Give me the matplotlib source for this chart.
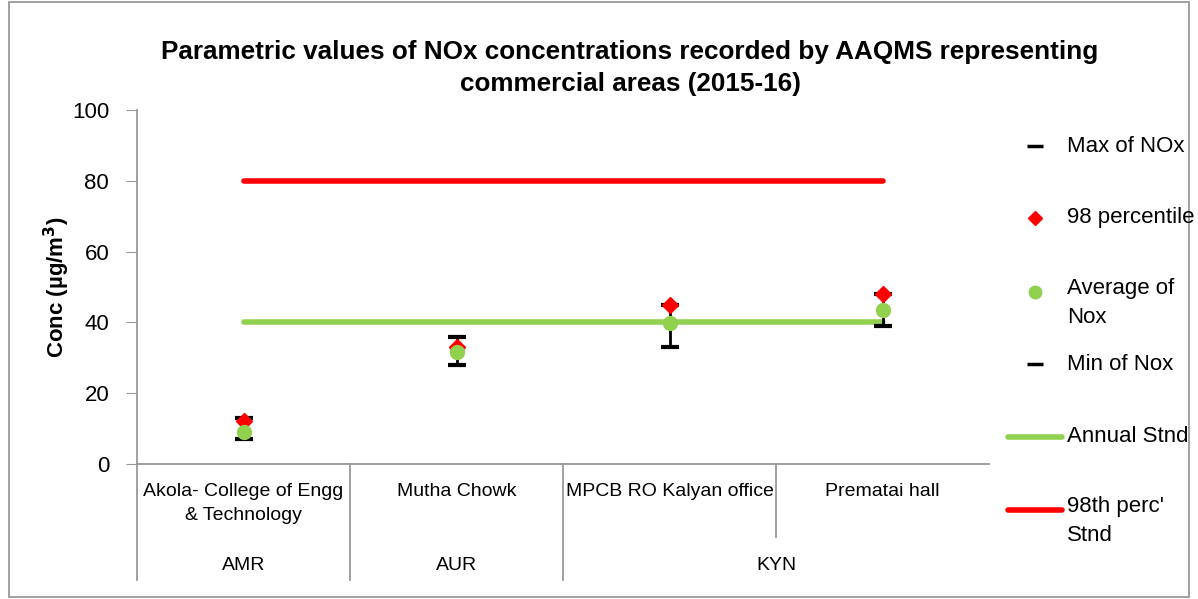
import matplotlib
matplotlib.use("Agg")
import matplotlib.pyplot as plt
from matplotlib.lines import Line2D
from matplotlib.patches import Rectangle
import matplotlib.transforms as mtransforms

# -------- data --------
sites = ["Akola- College of Engg\n& Technology", "Mutha Chowk",
         "MPCB RO Kalyan office", "Prematai hall"]
groups = ["AMR", "AUR", "KYN"]
group_span = [(0, 0), (1, 1), (2, 3)]
max_nox = [13, 36, 45, 48]
p98 = [12.2, 33, 45, 48]
avg_nox = [9, 31.6, 39.7, 43.5]
min_nox = [7, 28, 33, 39]
annual_stnd = [40, 40, 40, 40]
p98_stnd = [80, 80, 80, 80]

W, H = 1198, 599
plt.rcParams["font.family"] = ["Liberation Sans", "DejaVu Sans"]

GREEN = "#92D050"
RED = "#FF0000"

def fx(px):
    return px / W

def fy(py):
    return 1 - py / H

fig = plt.figure(figsize=(W / 100, H / 100), dpi=100)
ax = fig.add_axes([fx(137), fy(464), fx(989) - fx(137), fy(110) - fy(464)])

x = list(range(len(sites)))
ax.plot(x, p98_stnd, color=RED, lw=4, solid_capstyle="round", zorder=2)
ax.plot(x, annual_stnd, color=GREEN, lw=4, solid_capstyle="round", zorder=2)
ax.vlines(x, min_nox, max_nox, color="black", lw=2, zorder=3)
ax.plot(x, max_nox, ls="none", marker="_", ms=13, mew=3, color="black", zorder=4)
ax.plot(x, min_nox, ls="none", marker="_", ms=13, mew=3, color="black", zorder=4)
ax.plot(x, p98, ls="none", marker="D", ms=8, color=RED, zorder=5)
ax.plot(x, avg_nox, ls="none", marker="o", ms=10, color=GREEN, zorder=6)

ax.set_xlim(-0.5, len(sites) - 0.5)
ax.set_ylim(0, 100)
ax.set_yticks(range(0, 101, 20))
ax.tick_params(axis="y", labelsize=16, length=8, color="#999999", pad=12)
ax.set_xticks([])
for s in ("top", "right"):
    ax.spines[s].set_visible(False)
for s in ("left", "bottom"):
    ax.spines[s].set_color("#999999")
    ax.spines[s].set_linewidth(1.3)

# -------- multi-level category axis --------
trans = mtransforms.blended_transform_factory(ax.transData, ax.transAxes)
ah = 464 - 110
y_lab = (464 - 483) / ah
y_grp = (464 - 566) / ah
y_bot = (464 - 580) / ah
y_mid = (464 - 537) / ah
for i, s in enumerate(sites):
    ax.text(i, y_lab, s, transform=trans, ha="center", va="top", fontsize=14,
            linespacing=1.5)
for (a, b), g in zip(group_span, groups):
    ax.text((a + b) / 2, y_grp, g, transform=trans, ha="center", va="center",
            fontsize=14)
for (a, b) in group_span:
    ax.plot([a - 0.5, a - 0.5], [0, y_bot], transform=trans, color="#999999",
            lw=1.3, clip_on=False)
    for k in range(a + 1, b + 1):
        ax.plot([k - 0.5, k - 0.5], [0, y_mid], transform=trans, color="#999999",
                lw=1.3, clip_on=False)

ax.set_ylabel("Conc (µg/m$^\\mathbf{3}$)", fontsize=16, fontweight="bold")
ax.yaxis.set_label_coords((72 - 137) / 852, 0.5)

fig.text(fx(630), fy(68), "Parametric values of NOx concentrations recorded by AAQMS representing\ncommercial areas (2015-16)",
         ha="center", va="center", fontsize=18.8, fontweight="bold",
         linespacing=1.45)

# -------- legend (manual) --------
mk_x = fx(1035)
tx = fx(1067)
entries = [
    (146, "Max of NOx", dict(marker="_", ms=12, mew=2.5, color="black")),
    (218, "98 percentile", dict(marker="D", ms=7, color=RED)),
    (292, "Average of\nNox", dict(marker="o", ms=9, color=GREEN)),
    (364, "Min of Nox", dict(marker="_", ms=12, mew=2.5, color="black")),
]
for py, lab, kw in entries:
    fig.add_artist(Line2D([mk_x], [fy(py)], ls="none", transform=fig.transFigure, **kw))
    if "\n" in lab:
        fig.text(tx, fy(py - 14), lab, ha="left", va="top", fontsize=16, linespacing=1.5)
    else:
        fig.text(tx, fy(py), lab, ha="left", va="center", fontsize=16)
for py, lab, col in [(437, "Annual Stnd", GREEN), (510, "98th perc'\nStnd", RED)]:
    fig.add_artist(Line2D([fx(1008), fx(1062)], [fy(py), fy(py)], color=col, lw=4,
                          solid_capstyle="round", transform=fig.transFigure))
    if "\n" in lab:
        fig.text(tx, fy(py - 14), lab, ha="left", va="top", fontsize=16, linespacing=1.5)
    else:
        fig.text(tx, fy(py), lab, ha="left", va="center", fontsize=16)

# outer border
fig.add_artist(Rectangle((fx(9), fy(597)), fx(1189) - fx(9), fy(2) - fy(597),
                         transform=fig.transFigure, fill=False,
                         edgecolor="#999999", lw=1.3))

fig.savefig("out.png", dpi=100)
